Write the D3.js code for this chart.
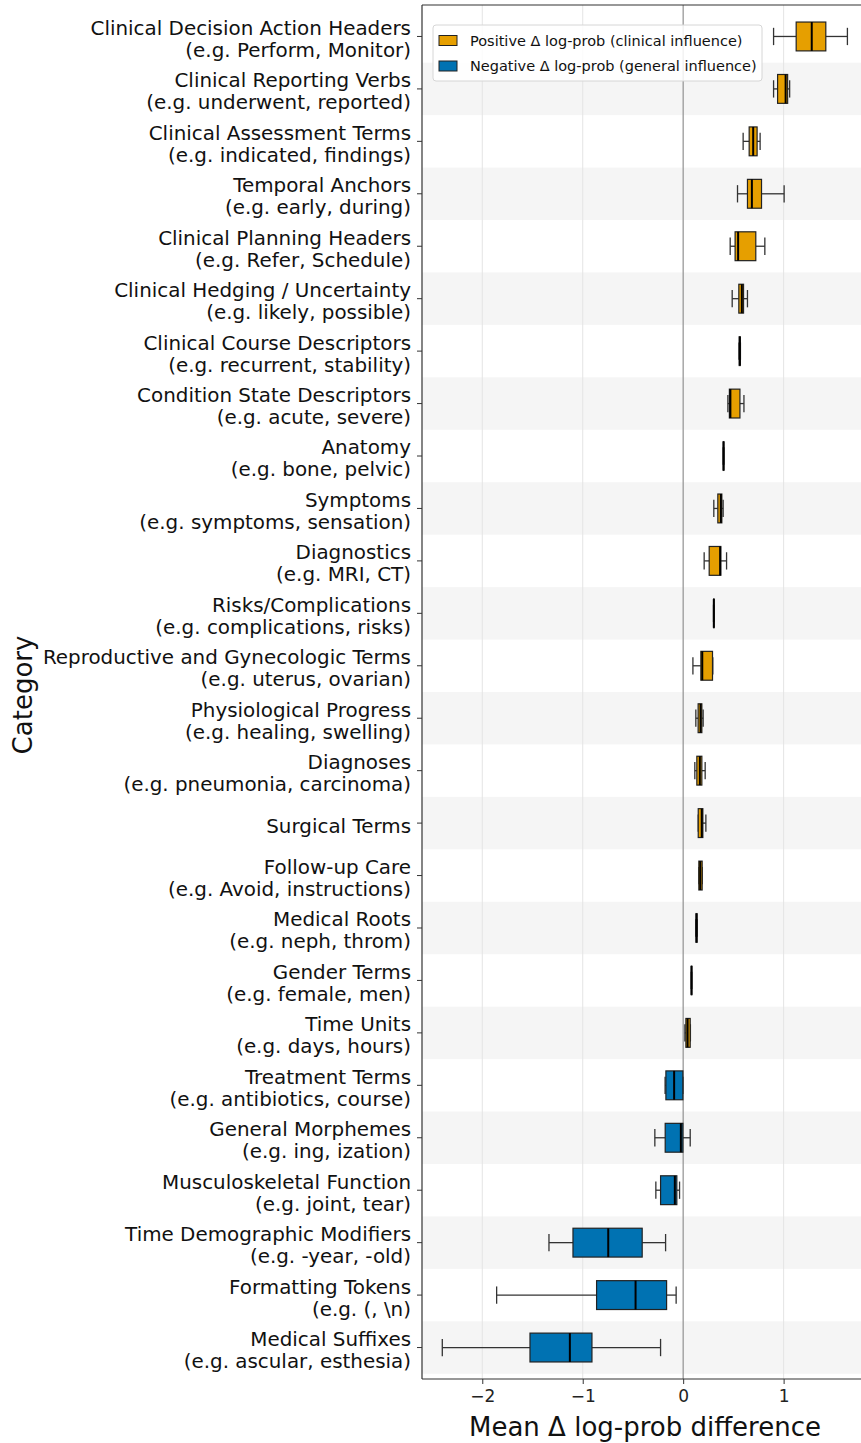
<!DOCTYPE html>
<html><head><meta charset="utf-8">
<script src="https://cdn.jsdelivr.net/npm/d3@7"></script>
<style>
html,body{margin:0;padding:0;background:#fff;overflow:hidden}
svg{display:block;font-family:"DejaVu Sans",sans-serif}
</style></head>
<body><svg id="chart" width="861" height="1443"></svg>
<script>
const categories = [
  ["Clinical Decision Action Headers","(e.g. Perform, Monitor)"],
  ["Clinical Reporting Verbs","(e.g. underwent, reported)"],
  ["Clinical Assessment Terms","(e.g. indicated, findings)"],
  ["Temporal Anchors","(e.g. early, during)"],
  ["Clinical Planning Headers","(e.g. Refer, Schedule)"],
  ["Clinical Hedging / Uncertainty","(e.g. likely, possible)"],
  ["Clinical Course Descriptors","(e.g. recurrent, stability)"],
  ["Condition State Descriptors","(e.g. acute, severe)"],
  ["Anatomy","(e.g. bone, pelvic)"],
  ["Symptoms","(e.g. symptoms, sensation)"],
  ["Diagnostics","(e.g. MRI, CT)"],
  ["Risks/Complications","(e.g. complications, risks)"],
  ["Reproductive and Gynecologic Terms","(e.g. uterus, ovarian)"],
  ["Physiological Progress","(e.g. healing, swelling)"],
  ["Diagnoses","(e.g. pneumonia, carcinoma)"],
  ["Surgical Terms"],
  ["Follow-up Care","(e.g. Avoid, instructions)"],
  ["Medical Roots","(e.g. neph, throm)"],
  ["Gender Terms","(e.g. female, men)"],
  ["Time Units","(e.g. days, hours)"],
  ["Treatment Terms","(e.g. antibiotics, course)"],
  ["General Morphemes","(e.g. ing, ization)"],
  ["Musculoskeletal Function","(e.g. joint, tear)"],
  ["Time Demographic Modifiers","(e.g. -year, -old)"],
  ["Formatting Tokens","(e.g. (, \\n)"],
  ["Medical Suffixes","(e.g. ascular, esthesia)"]
];
const whiskerLow = [0.90,0.90,0.597,0.541,0.468,0.488,0.556,0.445,0.398,0.305,0.209,0.302,0.097,0.126,0.116,0.15,0.156,0.125,0.08,0.017,-0.18,-0.282,-0.272,-1.336,-1.857,-2.398];
const q1 =         [1.125,0.94,0.657,0.64,0.517,0.554,0.558,0.46,0.399,0.345,0.259,0.303,0.176,0.149,0.136,0.15,0.156,0.128,0.081,0.027,-0.172,-0.179,-0.225,-1.097,-0.862,-1.525];
const medians =    [1.28,1.02,0.697,0.684,0.547,0.584,0.564,0.47,0.402,0.375,0.368,0.305,0.19,0.173,0.166,0.185,0.17,0.133,0.083,0.044,-0.09,-0.023,-0.083,-0.746,-0.474,-1.128];
const q3 =         [1.42,1.04,0.736,0.78,0.723,0.601,0.568,0.565,0.405,0.385,0.375,0.307,0.292,0.186,0.186,0.196,0.189,0.138,0.085,0.07,-0.003,-0.003,-0.063,-0.408,-0.165,-0.908];
const whiskerHigh =[1.635,1.06,0.766,1.005,0.813,0.64,0.57,0.605,0.406,0.398,0.432,0.308,0.295,0.199,0.219,0.226,0.19,0.14,0.086,0.072,-0.003,0.07,-0.036,-0.175,-0.07,-0.225];
const xTicks = [-2,-1,0,1];
const legendLabels = ["Positive \u0394 log-prob (clinical influence)","Negative \u0394 log-prob (general influence)"];
const colors = {pos:"#E69F00", neg:"#0072B2"};

const svg = d3.select("#chart");
const m = {left:422, right:868, top:5, bottom:1379};
const x = d3.scaleLinear().domain([-2.6, 1.84]).range([m.left, m.right]);
const idx = d3.range(categories.length);
const y = d3.scaleBand().domain(idx).range([m.top, m.bottom]).paddingOuter(0.1).paddingInner(0);
const step = y.step();
const yc = i => y(i) + y.bandwidth()/2;

// banding
svg.append("g").selectAll("rect").data(idx.filter(i=>i%2===1)).join("rect")
  .attr("x", m.left).attr("width", m.right-m.left)
  .attr("y", i=>yc(i)-step/2).attr("height", step)
  .attr("fill","#f5f5f5");

// grid
svg.append("g").selectAll("line").data(xTicks.filter(t=>t!==0)).join("line")
  .attr("x1",d=>x(d)).attr("x2",d=>x(d)).attr("y1",m.top).attr("y2",m.bottom)
  .attr("stroke","#e4e4e4").attr("stroke-width",1);
// zero line
svg.append("line").attr("x1",x(0)).attr("x2",x(0)).attr("y1",m.top).attr("y2",m.bottom)
  .attr("stroke","#999").attr("stroke-width",1.3);

// boxes
const boxH = step*0.55, capH = step*0.33;
const g = svg.append("g").selectAll("g").data(idx).join("g");
g.append("line").attr("x1",i=>x(whiskerLow[i])).attr("x2",i=>x(q1[i]))
  .attr("y1",yc).attr("y2",yc).attr("stroke","#333").attr("stroke-width",1.3);
g.append("line").attr("x1",i=>x(q3[i])).attr("x2",i=>x(whiskerHigh[i]))
  .attr("y1",yc).attr("y2",yc).attr("stroke","#333").attr("stroke-width",1.3);
g.append("line").attr("x1",i=>x(whiskerLow[i])).attr("x2",i=>x(whiskerLow[i]))
  .attr("y1",i=>yc(i)-capH/2).attr("y2",i=>yc(i)+capH/2).attr("stroke","#333").attr("stroke-width",1.3);
g.append("line").attr("x1",i=>x(whiskerHigh[i])).attr("x2",i=>x(whiskerHigh[i]))
  .attr("y1",i=>yc(i)-capH/2).attr("y2",i=>yc(i)+capH/2).attr("stroke","#333").attr("stroke-width",1.3);
g.append("rect").attr("x",i=>x(q1[i])).attr("width",i=>Math.max(0.5,x(q3[i])-x(q1[i])))
  .attr("y",i=>yc(i)-boxH/2).attr("height",boxH)
  .attr("fill",i=>medians[i]>=0?colors.pos:colors.neg)
  .attr("stroke","#222").attr("stroke-width",1.2);
g.append("line").attr("x1",i=>x(medians[i])).attr("x2",i=>x(medians[i]))
  .attr("y1",i=>yc(i)-boxH/2).attr("y2",i=>yc(i)+boxH/2).attr("stroke","#000").attr("stroke-width",2);

// spines
svg.append("line").attr("x1",m.left).attr("x2",m.right).attr("y1",m.top).attr("y2",m.top).attr("stroke","#333").attr("stroke-width",1.2);
svg.append("line").attr("x1",m.left).attr("x2",m.right).attr("y1",m.bottom).attr("y2",m.bottom).attr("stroke","#333").attr("stroke-width",1.2);
svg.append("line").attr("x1",m.left).attr("x2",m.left).attr("y1",m.top).attr("y2",m.bottom).attr("stroke","#333").attr("stroke-width",1.2);

// x axis
const xa = svg.append("g").attr("transform",`translate(0,${m.bottom})`)
  .call(d3.axisBottom(x).tickValues(xTicks).tickSize(5).tickPadding(6).tickFormat(d=>d<0?"\u2212"+Math.abs(d):d));
xa.select(".domain").remove();
xa.selectAll("line").attr("stroke","#333");
xa.selectAll("text").attr("font-size",17).attr("fill","#222").attr("font-family","DejaVu Sans");

// y axis ticks + labels
const ya = svg.append("g");
ya.selectAll("line").data(idx).join("line").attr("x1",m.left-5).attr("x2",m.left)
  .attr("y1",yc).attr("y2",yc).attr("stroke","#333");
const lab = ya.selectAll("text").data(idx).join("text")
  .attr("x", m.left-11).attr("text-anchor","end").attr("font-size",19.9).attr("fill","#111");
lab.each(function(i){
  const lines = categories[i];
  const t = d3.select(this);
  const lh = 22;
  lines.forEach((s,k)=>{
    t.append("tspan").attr("x",m.left-11)
     .attr("y", yc(i) + 2.5 + (k - (lines.length-1)/2)*lh)
     .attr("dy","0.35em").text(s);
  });
});

// axis titles
svg.append("text").attr("x",645).attr("y",1436).attr("text-anchor","middle")
  .attr("font-size",26).attr("fill","#111").text("Mean \u0394 log-prob difference");
svg.append("text").attr("transform","translate(32,695) rotate(-90)").attr("text-anchor","middle")
  .attr("font-size",26).attr("fill","#111").text("Category");

// legend
const lg = svg.append("g");
lg.append("rect").attr("x",433).attr("y",25).attr("width",329).attr("height",56).attr("rx",3)
  .attr("fill","rgba(255,255,255,0.85)").attr("stroke","#d6d6d6");
legendLabels.forEach((s,k)=>{
  const cy = 40.5 + k*25.5;
  lg.append("rect").attr("x",439).attr("y",cy-5).attr("width",18).attr("height",10)
    .attr("fill",k===0?colors.pos:colors.neg).attr("stroke","#222").attr("stroke-width",1);
  lg.append("text").attr("x",470).attr("y",cy).attr("dy","0.35em").attr("font-size",14.5)
    .attr("fill","#111").text(s);
});
</script></body></html>
